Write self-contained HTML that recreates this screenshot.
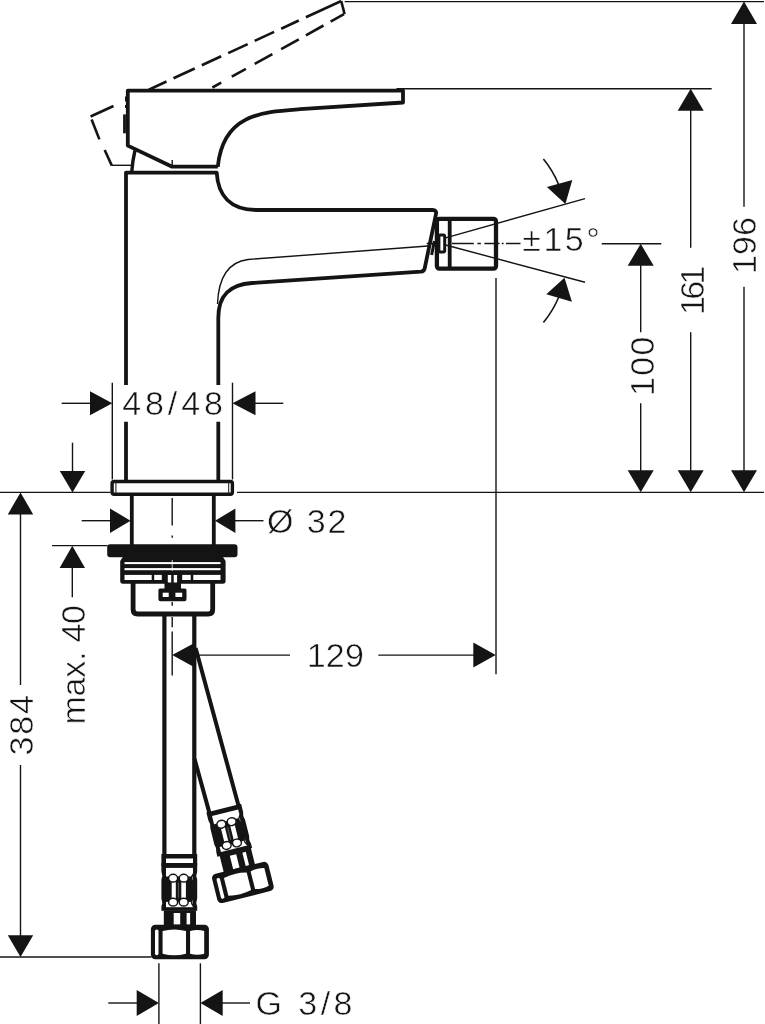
<!DOCTYPE html>
<html lang="en"><head><meta charset="utf-8"><title>Dimension drawing</title>
<style>html,body{margin:0;padding:0;background:#fff}svg{display:block;filter:grayscale(1)}text{font-family:"Liberation Sans",sans-serif;font-size:34px;fill:#141414;stroke:#fff;stroke-width:0.55px}</style>
</head><body>
<svg width="765" height="1024" viewBox="0 0 765 1024">
<rect width="765" height="1024" fill="#fff"/>
<defs>
<g id="fit">
<path fill="#141414" d="M-17.9,-2.3 H17.9 V6.0 Q16.2,10.0 17.9,14.0 V33.0 Q16.2,37.0 17.9,41.0 V45.3 H-17.9 V41.0 Q-16.2,37.0 -17.9,33.0 V14.0 Q-16.2,10.0 -17.9,6.0 Z"/>
<rect x="-13.3" y="2.4" width="27" height="8.6" fill="#fff"/>
<rect x="-13.3" y="36.4" width="27" height="5.3" fill="#fff"/>
<rect x="-7.6" y="10" width="4.1" height="27.3" fill="#fff"/>
<rect x="2" y="10" width="4.6" height="27.3" fill="#fff"/>
<ellipse cx="-6.2" cy="12.7" rx="4.5" ry="3.9" fill="#fff" stroke="#141414" stroke-width="1.5"/>
<ellipse cx="-6.2" cy="36.7" rx="4.5" ry="3.9" fill="#fff" stroke="#141414" stroke-width="1.5"/>
<ellipse cx="4.4" cy="12.7" rx="4.5" ry="3.9" fill="#fff" stroke="#141414" stroke-width="1.5"/>
<ellipse cx="4.4" cy="36.7" rx="4.5" ry="3.9" fill="#fff" stroke="#141414" stroke-width="1.5"/>
<path d="M13.7,8.7 Q10.3,12.7 13.7,16.7 Z" fill="#fff" stroke="#141414" stroke-width="1.1"/>
<path d="M13.7,32.7 Q10.3,36.7 13.7,40.7 Z" fill="#fff" stroke="#141414" stroke-width="1.1"/>
<line x1="-0.9" y1="17" x2="-0.9" y2="32.3" stroke="#888" stroke-width="0.6"/>
<rect x="-15.5" y="44.8" width="32.2" height="16.2" fill="#141414"/>
<rect x="-5.6" y="47.5" width="6.5" height="11.5" fill="#fff"/>
<rect x="7.3" y="47.5" width="3.5" height="11.5" fill="#fff"/>
<rect x="-28.4" y="59.2" width="58" height="34.6" rx="4.5" fill="#141414"/>
<rect x="-24.3" y="63.9" width="3.5" height="25.8" rx="1.6" fill="#fff"/>
<path d="M-16.7,65.4 Q-5,62.4 6.7,65.4 V88.2 Q-5,91.2 -16.7,88.2 Z" fill="#fff"/>
<path d="M10.8,65.4 Q18,63.4 24.9,65.4 V88.2 Q18,90.2 10.8,88.2 Z" fill="#fff"/>
</g>
<g id="fit2">
<path fill="#141414" d="M-17.9,-2.3 H17.9 V6.0 Q16.2,10.0 17.9,14.0 V30.9 Q16.2,34.9 17.9,38.9 V43.2 H-17.9 V38.9 Q-16.2,34.9 -17.9,30.9 V14.0 Q-16.2,10.0 -17.9,6.0 Z"/>
<rect x="-13.3" y="2.4" width="27" height="8.6" fill="#fff"/>
<rect x="-13.3" y="34.3" width="27" height="5.3" fill="#fff"/>
<rect x="-7.6" y="10" width="4.1" height="25.2" fill="#fff"/>
<rect x="2" y="10" width="4.6" height="25.2" fill="#fff"/>
<ellipse cx="-6.2" cy="12.7" rx="4.5" ry="3.9" fill="#fff" stroke="#141414" stroke-width="1.5"/>
<ellipse cx="-6.2" cy="34.6" rx="4.5" ry="3.9" fill="#fff" stroke="#141414" stroke-width="1.5"/>
<ellipse cx="4.4" cy="12.7" rx="4.5" ry="3.9" fill="#fff" stroke="#141414" stroke-width="1.5"/>
<ellipse cx="4.4" cy="34.6" rx="4.5" ry="3.9" fill="#fff" stroke="#141414" stroke-width="1.5"/>
<path d="M13.7,8.7 Q10.3,12.7 13.7,16.7 Z" fill="#fff" stroke="#141414" stroke-width="1.1"/>
<path d="M13.7,30.6 Q10.3,34.6 13.7,38.6 Z" fill="#fff" stroke="#141414" stroke-width="1.1"/>
<line x1="-0.9" y1="17" x2="-0.9" y2="30.2" stroke="#888" stroke-width="0.6"/>
<rect x="-15.5" y="42.7" width="32.2" height="18.5" fill="#141414"/>
<rect x="-5.6" y="45.4" width="6.5" height="13.8" fill="#fff"/>
<rect x="7.3" y="45.4" width="3.5" height="13.8" fill="#fff"/>
<rect x="-28.4" y="59.4" width="58" height="30.0" rx="4.5" fill="#141414"/>
<rect x="-24.3" y="64.1" width="3.5" height="21.2" rx="1.6" fill="#fff"/>
<path d="M-16.7,65.6 Q-5,62.6 6.7,65.6 V83.8 Q-5,86.8 -16.7,83.8 Z" fill="#fff"/>
<path d="M10.8,65.6 Q18,63.6 24.9,65.6 V83.8 Q18,85.8 10.8,83.8 Z" fill="#fff"/>
</g>
</defs>
<g fill="none" stroke="#141414" stroke-width="1.4">
<line x1="344.7" y1="1.6" x2="764.0" y2="1.6"/>
<line x1="396.5" y1="88.8" x2="711.7" y2="88.8"/>
<line x1="601.7" y1="243.7" x2="661.3" y2="243.7"/>
<line x1="0.0" y1="492.4" x2="110.6" y2="492.4"/>
<line x1="237.0" y1="492.4" x2="764.0" y2="492.4"/>
<line x1="744.0" y1="23.0" x2="744.0" y2="206.7"/>
<line x1="744.0" y1="286.7" x2="744.0" y2="471.0"/>
<line x1="690.7" y1="110.0" x2="690.7" y2="247.8"/>
<line x1="690.7" y1="332.2" x2="690.7" y2="471.0"/>
<line x1="640.7" y1="265.0" x2="640.7" y2="332.2"/>
<line x1="640.7" y1="403.3" x2="640.7" y2="471.0"/>
<line x1="496.0" y1="278.0" x2="496.0" y2="674.3"/>
<line x1="445.6" y1="237.8" x2="585.0" y2="198.6"/>
<line x1="445.6" y1="245.0" x2="585.0" y2="282.2"/>
<path d="M426.7,243.5 H436 M452,243.5 H473.8 M477.4,243.5 H480.9 M484.4,243.5 H499.5 M501.8,243.5 H503.6 M505.9,243.5 H520.5"/>
<path d="M217.5,304 C218.5,278 228,262 248,259.5 L428,246"/>
<line x1="112.3" y1="382.7" x2="112.3" y2="479.5"/>
<line x1="232.5" y1="382.7" x2="232.5" y2="479.5"/>
<line x1="61.7" y1="403.3" x2="91.0" y2="403.3"/>
<line x1="255.0" y1="403.3" x2="283.3" y2="403.3"/>
<line x1="72.5" y1="442.7" x2="72.5" y2="472.0"/>
<line x1="20.5" y1="513.0" x2="20.5" y2="685.0"/>
<line x1="20.5" y1="765.0" x2="20.5" y2="936.0"/>
<line x1="0.0" y1="957.0" x2="151.5" y2="957.0"/>
<line x1="81.7" y1="520.7" x2="111.0" y2="520.7"/>
<line x1="234.5" y1="520.7" x2="263.5" y2="520.7"/>
<line x1="52.0" y1="545.6" x2="107.5" y2="545.6"/>
<line x1="72.3" y1="567.0" x2="72.3" y2="597.3"/>
<path d="M172.2,498 V525.6 M172.2,535.5 V537.8 M172.2,602 V605.8 M172.2,617 V627.3 M172.2,631.6 V675.6"/>
<line x1="194.0" y1="655.1" x2="290.0" y2="655.1"/>
<line x1="378.3" y1="655.1" x2="474.0" y2="655.1"/>
<line x1="158.9" y1="963.3" x2="158.9" y2="1024.0"/>
<line x1="200.4" y1="963.3" x2="200.4" y2="1024.0"/>
<line x1="108.3" y1="1003.0" x2="137.5" y2="1003.0"/>
<line x1="222.0" y1="1003.0" x2="250.0" y2="1003.0"/>
<path d="M543.4,159.1 Q552.5,170 558.6,184.5" stroke-width="1.6"/>
<path d="M543.4,322.6 Q552.5,311.5 558.6,297.5" stroke-width="1.6"/>
<line x1="111.8" y1="165.3" x2="132.5" y2="165.3"/>
<line x1="172.2" y1="160.0" x2="172.2" y2="167.0"/>
</g>
<g fill="#141414" stroke="none">
<polygon points="744.0,1.6 731.0,24.1 757.0,24.1"/>
<polygon points="744.0,492.3 731.0,470.3 757.0,470.3"/>
<polygon points="690.7,88.8 677.7,110.8 703.7,110.8"/>
<polygon points="690.7,492.3 677.7,470.3 703.7,470.3"/>
<polygon points="640.7,243.8 627.7,265.8 653.7,265.8"/>
<polygon points="640.7,492.3 627.7,470.3 653.7,470.3"/>
<polygon points="112.3,403.3 90.0,391.3 90.0,415.3"/>
<polygon points="232.5,403.3 255.5,391.3 255.5,415.3"/>
<polygon points="72.5,492.4 59.8,470.9 85.2,470.9"/>
<polygon points="20.5,492.4 7.8,514.4 33.2,514.4"/>
<polygon points="20.5,957.0 7.8,935.3 33.2,935.3"/>
<polygon points="130.6,520.7 110.0,508.5 110.0,532.9"/>
<polygon points="215.0,520.7 235.4,508.5 235.4,532.9"/>
<polygon points="72.3,545.7 59.6,568.0 85.0,568.0"/>
<polygon points="172.2,655.1 194.4,642.9 194.4,667.3"/>
<polygon points="495.7,655.1 473.3,642.6 473.3,667.6"/>
<polygon points="158.9,1003.0 136.7,990.0 136.7,1016.0"/>
<polygon points="200.4,1003.0 222.7,990.0 222.7,1016.0"/>
<polygon points="565.4,204.1 546.9,186.9 572.3,180"/>
<polygon points="564.5,277.7 546.3,294.3 571.9,301.7"/>
</g>
<g fill="none" stroke="#141414" stroke-width="2.6" stroke-linecap="butt">
<line x1="90.6" y1="116.5" x2="113.5" y2="106.0"/>
<line x1="148.8" y1="89.7" x2="166.5" y2="81.5"/>
<line x1="173.5" y1="78.3" x2="194.7" y2="68.5"/>
<line x1="201.8" y1="65.3" x2="221.2" y2="56.3"/>
<line x1="228.2" y1="53.1" x2="247.7" y2="44.1"/>
<line x1="254.7" y1="40.9" x2="274.1" y2="31.9"/>
<line x1="281.2" y1="28.7" x2="298.8" y2="20.5"/>
<line x1="305.9" y1="17.3" x2="341.2" y2="1.0"/>
<line x1="212.4" y1="87.5" x2="221.2" y2="82.6"/>
<line x1="231.8" y1="76.7" x2="245.9" y2="68.8"/>
<line x1="254.7" y1="63.9" x2="272.4" y2="54.1"/>
<line x1="281.2" y1="49.1" x2="298.8" y2="39.3"/>
<line x1="305.9" y1="35.4" x2="323.5" y2="25.5"/>
<line x1="330.6" y1="21.6" x2="344.0" y2="14.1"/>
<path d="M341.2,1 L344.6,14.1" />
<line x1="91.6" y1="119.5" x2="99.4" y2="139.4"/>
<line x1="104.7" y1="150.0" x2="111.8" y2="165.6"/>
</g>
<g fill="none" stroke="#141414" stroke-width="3.8" stroke-linejoin="round" stroke-linecap="butt">
<path d="M217.8,166.7 H172.2 L127.8,145.6 V90.6 H403 V102.5 L300,109.2 C262,112 223,114 217.8,166.7"/>
<path d="M126,385 V172.7 H216.7 C218,195 230,210 256,210 H432.5 Q436.8,210 436,214 L424.7,268.3 Q424,271.4 420.8,271.7 L252,283 C230,284.5 218.3,295 218.3,318 V385"/>
<path d="M126,421.7 V480 M218.3,421.7 V480"/>
<path d="M135,150.5 Q132.6,160 131.8,171.5" stroke-width="3.4"/>
<path d="M124.5,114.4 V133.3" stroke-width="2.8"/>
<path d="M125.8,96.5 V101.5 M125.8,105 V108" stroke-width="1.6"/>
<rect x="436.9" y="218.9" width="59.1" height="49.7" rx="2.5" stroke-width="4.3"/>
<path d="M449.7,219 V268.5" stroke-width="3.8"/>
<rect x="438.9" y="235" width="5.8" height="17" rx="1.5" stroke-width="3"/>
<path d="M434.4,241 L431.6,255" stroke-width="3"/>
<rect x="112.1" y="481.5" width="120.3" height="12.7" rx="2" stroke-width="3.4"/>
<path d="M115.9,483 V493 M228.7,483 V493" stroke-width="1"/>
<path d="M131.8,495.6 V545 M213.8,495.6 V545"/>
<path d="M133.1,583 V609.5 Q133.1,614 137.6,614 H208.2 Q212.7,614 212.7,609.5 V583" stroke-width="4.8"/>
<path d="M164.4,616 V856 M194.3,616 V856" stroke-width="4.2"/>
<path d="M195.6,648 L238.6,806 M194.6,759 L209.6,813.6" stroke-width="4"/>
</g>
<g fill="#141414" stroke="none">
<rect x="107.2" y="544.2" width="130.3" height="13" rx="3"/>
<path d="M123.5,556 H222.3 L225.6,561 V581 Q225.6,583.8 223,583.8 H122.8 Q120.2,583.8 120.2,581 V561 Z"/>
</g>
<g fill="#fff" stroke="none">
<rect x="124.5" y="562.1" width="96" height="2"/>
<rect x="124.5" y="568.1" width="96" height="2.1"/>
<rect x="124.5" y="574.9" width="27.2" height="5.1"/>
<rect x="154.2" y="574.9" width="7.6" height="5.1"/>
<rect x="167.8" y="574.9" width="3.4" height="7"/>
<rect x="173.7" y="574.9" width="3.4" height="7"/>
<rect x="182.2" y="574.9" width="8.5" height="5.1"/>
<rect x="193.3" y="574.9" width="27.2" height="5.1"/>
</g>
<path d="M172.2,560 V571" stroke="#fff" stroke-width="0.8"/>
<g fill="#141414" stroke="none">
<rect x="164.5" y="574" width="16.5" height="15"/>
<path d="M160,588.4 H185 Q186.5,588.4 186.5,590 V599 Q186.5,601.2 184.5,601.2 H160.5 Q158.4,601.2 158.4,599 V590 Q158.4,588.4 160,588.4 Z"/>
</g>
<g fill="#fff"><rect x="167.8" y="575" width="3.4" height="7.5"/><rect x="173.7" y="575" width="3.4" height="7.5"/>
<rect x="162.7" y="592.7" width="6" height="4.3"/><rect x="175.4" y="592.7" width="6.8" height="4.3"/></g>
<g>
<rect x="161.4" y="854" width="35.8" height="12" fill="#141414"/>
<rect x="166" y="858.5" width="27" height="4.5" fill="#fff"/>
<use href="#fit" transform="translate(179.3,865.5)"/>
<use href="#fit2" transform="translate(224.3,810.4) rotate(-14)"/>
</g>
<text x="122.3" y="415.3" textLength="100.6" lengthAdjust="spacing">48/48</text>
<text x="267.0" y="533.0" textLength="79.5" lengthAdjust="spacing">Ø 32</text>
<text x="306.8" y="666.5" textLength="57.0" lengthAdjust="spacing">129</text>
<text x="255.5" y="1014.6" textLength="97.0" lengthAdjust="spacing">G 3/8</text>
<text x="522.3" y="251.2" textLength="77.5" lengthAdjust="spacing">±15°</text>
<text transform="translate(756.4,274.0) rotate(-90)" textLength="57.0" lengthAdjust="spacing">196</text>
<text transform="translate(704.2,311.6) rotate(-90)"><tspan x="-3.4 11.8 27.2">161</tspan></text>
<text transform="translate(654.2,396.0) rotate(-90)" textLength="59.5" lengthAdjust="spacing">100</text>
<text transform="translate(33.3,755.5) rotate(-90)" textLength="60.5" lengthAdjust="spacing">384</text>
<text transform="translate(85.2,724.5) rotate(-90)" textLength="119.5" lengthAdjust="spacing">max. 40</text>
</svg></body></html>
